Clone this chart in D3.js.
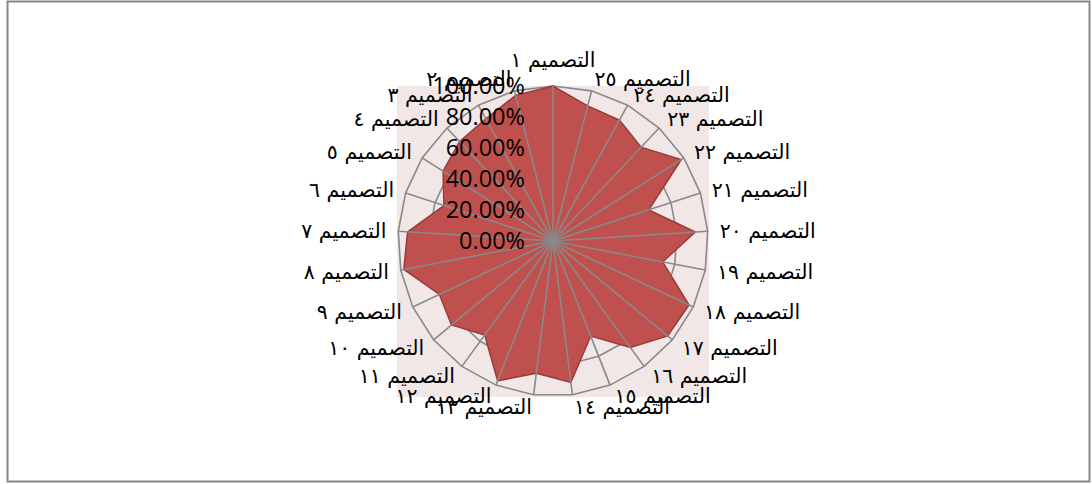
<!DOCTYPE html>
<html><head><meta charset="utf-8">
<script src="https://cdn.jsdelivr.net/npm/d3@7"></script>
<style>body{margin:0;background:#fff}svg{display:block}</style>
</head><body>
<script>
const categories = ["التصميم ١","التصميم ٢","التصميم ٣","التصميم ٤","التصميم ٥","التصميم ٦","التصميم ٧","التصميم ٨","التصميم ٩","التصميم ١٠","التصميم ١١","التصميم ١٢","التصميم ١٣","التصميم ١٤","التصميم ١٥","التصميم ١٦","التصميم ١٧","التصميم ١٨","التصميم ١٩","التصميم ٢٠","التصميم ٢١","التصميم ٢٢","التصميم ٢٣","التصميم ٢٤","التصميم ٢٥"];
const values = [1.00,0.97,0.90,0.88,0.84,0.74,0.94,0.98,0.81,0.85,0.75,0.97,0.86,0.92,0.66,0.85,0.96,0.97,0.72,0.92,0.65,0.98,0.83,0.89,0.90];
const tickValues = [0,0.2,0.4,0.6,0.8,1.0];
const tickLabels = ["0.00%","20.00%","40.00%","60.00%","80.00%","100.00%"];

const W=1092,H=484, cx=553, cy=241, R=155;
const svg=d3.select("body").append("svg").attr("width",W).attr("height",H);
svg.append("rect").attr("x",7.5).attr("y",1.5).attr("width",1082).attr("height",480)
  .attr("fill","#fff").attr("stroke","#868686").attr("stroke-width",2);
svg.append("rect").attr("x",cx-156).attr("y",cy-155).attr("width",312).attr("height",311).attr("fill","#f2e7e7");

const n=categories.length;
const r=d3.scaleLinear().domain([0,1]).range([0,R]);
// counterclockwise from top (right-to-left chart)
const ang=d3.scaleLinear().domain([0,n]).range([0,-2*Math.PI]);
const pt=(i,v)=>[cx+r(v)*Math.sin(ang(i)), cy-r(v)*Math.cos(ang(i))];
const g=svg.append("g");
const gray="#898989";
// grid rings
tickValues.filter(t=>t>0).forEach(t=>{
  g.append("path").attr("d",d3.line()(d3.range(n).map(i=>pt(i,t)))+"Z")
   .attr("fill","none").attr("stroke",gray).attr("stroke-width",1.6);
});
// series
g.append("path").attr("d",d3.line()(values.map((v,i)=>pt(i,v)))+"Z")
  .attr("fill","#c0504d").attr("stroke","#983b39").attr("stroke-width",1.5);
// spokes
d3.range(n).forEach(i=>{
  const [x,y]=pt(i,1);
  g.append("line").attr("x1",cx).attr("y1",cy).attr("x2",x).attr("y2",y)
   .attr("stroke",gray).attr("stroke-width",1.6);
});
// value axis labels
tickValues.forEach((t,k)=>{
  svg.append("text").attr("x",cx-28).attr("y",cy-r(t)).attr("dy","0.35em")
   .attr("text-anchor","end").attr("font-family","Open Sans, sans-serif").attr("font-size",23.5)
   .attr("fill","#000").text(tickLabels[k]);
});
// category labels
categories.forEach((c,i)=>{
  const a=ang(i), s=Math.sin(a), co=Math.cos(a);
  const rr=R+12;
  let x=cx+rr*s, y=cy-rr*co;
  let anchor = s>0.05?"start":(s<-0.05?"end":"middle");
  if(anchor==="middle") y += -co*14;
  svg.append("text").attr("x",x).attr("y",y).attr("dy","0.35em").attr("text-anchor",anchor)
   .attr("font-family","DejaVu Sans, sans-serif").attr("font-size",20.5).attr("fill","#000").text(c);
});
</script>
</body></html>
